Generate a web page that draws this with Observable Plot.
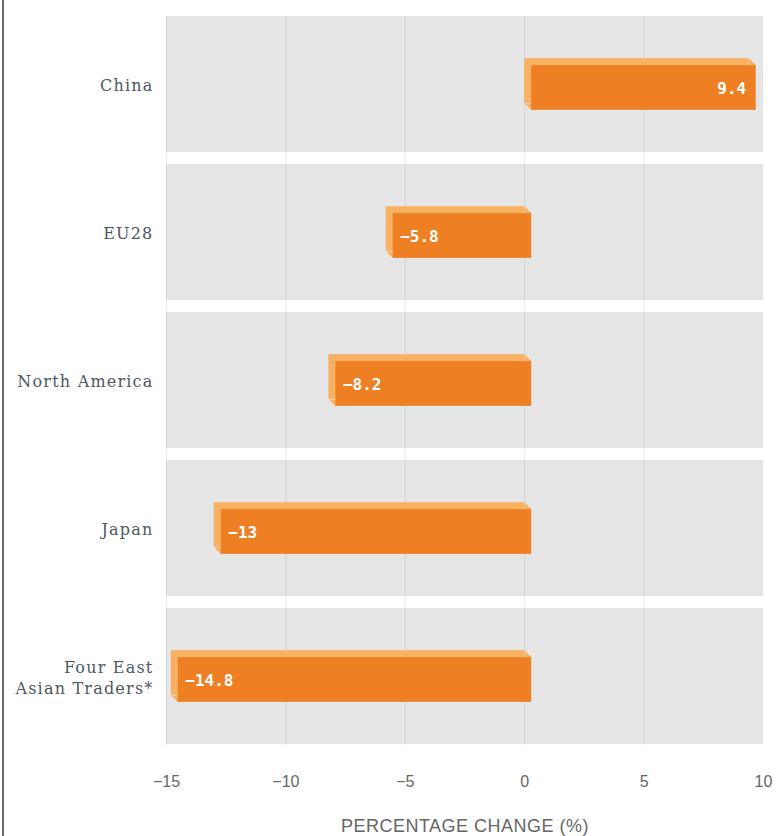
<!DOCTYPE html>
<html>
<head>
<meta charset="utf-8">
<script src="https://cdn.jsdelivr.net/npm/d3@7"></script>
<script src="https://cdn.jsdelivr.net/npm/@observablehq/plot@0.6"></script>
<style>
  html, body { margin: 0; padding: 0; background: #fff; }
  #wrap { position: relative; width: 776px; height: 836px; overflow: hidden; }
  #border { position: absolute; left: 2px; top: 0; width: 2px; height: 836px; background: #6a6a6a; }
  #chart { position: absolute; left: 0; top: 0; }
  #chart g[font-family^="'DejaVu Serif'"] { letter-spacing: 1.2px; }
  #chart g[font-family^="Arial"] { letter-spacing: 0.5px; }
</style>
</head>
<body>
<div id="wrap"><div id="chart"></div><div id="border"></div></div>
<script>
// ---- data ----
const categories = ["China", "EU28", "North America", "Japan", "Four East\nAsian Traders*"];
const values = [9.4, -5.8, -8.2, -13, -14.8];
const xDomain = [-15, 10];
const xTicks = [-15, -10, -5, 0, 5, 10];
const gridTicks = [-15, -10, -5, 0, 5];
const xLabel = "PERCENTAGE CHANGE (%)";

// ---- layout / style ----
const W = 776, H = 836;
const mt = 16, mb = 91, ml = 166, mr = 13;
const pad = 0.08;
const bw = (H - mt - mb) / (categories.length - pad) * (1 - pad);
const half = bw / 2;
const D = 7;          // extrusion depth (px)
const faceTop = -26;  // back face top relative to band centre
const faceBot = 19;   // back face bottom relative to band centre
const dark = "#EE7F22", light = "#F8B062";

const rows = categories.map((c, i) => ({cat: c, value: values[i]}));
const fmt = v => (v < 0 ? "\u2212" : "") + Math.abs(v);

const bevelTR = {draw(ctx) { ctx.moveTo(0, faceTop); ctx.lineTo(D, faceTop + D); ctx.lineTo(0, faceTop + D); ctx.closePath(); }};
const bevelBL = {draw(ctx) { ctx.moveTo(0, faceBot); ctx.lineTo(D, faceBot + D); ctx.lineTo(D, faceBot); ctx.closePath(); }};

const chart = Plot.plot({
  width: W, height: H,
  marginTop: mt, marginBottom: mb, marginLeft: ml, marginRight: mr,
  style: {background: "transparent", fontFamily: "'Liberation Sans', Arial, sans-serif", overflow: "visible"},
  x: {domain: xDomain},
  y: {domain: categories, paddingInner: pad, paddingOuter: 0, axis: null},
  marks: [
    Plot.barX(categories, {y: d => d, x1: xDomain[0], x2: xDomain[1], fill: "#e6e6e6"}),
    Plot.ruleX(gridTicks, {stroke: "#000", strokeOpacity: 0.07, strokeWidth: 1.2}),
    // back face
    Plot.barX(rows, {y: "cat", x1: 0, x2: "value", fill: light,
      insetTop: half + faceTop, insetBottom: half - faceBot}),
    // bevels
    Plot.dot(rows, {y: "cat", x: d => Math.max(d.value, 0), r: 3, symbol: bevelTR, fill: light, stroke: "none"}),
    Plot.dot(rows, {y: "cat", x: d => Math.min(d.value, 0), r: 3, symbol: bevelBL, fill: light, stroke: "none"}),
    // front face
    Plot.barX(rows, {y: "cat", x1: 0, x2: "value", fill: dark, dx: D, dy: D,
      insetTop: half + faceTop, insetBottom: half - faceBot}),
    // value labels
    Plot.text(rows.filter(d => d.value < 0), {y: "cat", x: "value", text: d => fmt(d.value),
      textAnchor: "start", dx: D + 7, dy: 4, fill: "#fff", fontWeight: "bold", fontSize: 16,
      fontFamily: "'DejaVu Sans Mono', monospace"}),
    Plot.text(rows.filter(d => d.value >= 0), {y: "cat", x: "value", text: d => fmt(d.value),
      textAnchor: "end", dx: D - 10, dy: 4, fill: "#fff", fontWeight: "bold", fontSize: 16,
      fontFamily: "'DejaVu Sans Mono', monospace"}),
    // category labels (y axis)
    Plot.text(categories, {y: d => d, text: d => d, frameAnchor: "left", textAnchor: "end", dx: -13,
      fill: "#4b5863", fontSize: 16, lineHeight: 1.3, fontFamily: "'DejaVu Serif', serif"}),
    Plot.axisX({ticks: xTicks, tickSize: 0, tickPadding: 30, fill: "#666", fontSize: 16,
      tickFormat: d => fmt(d), label: null}),
    Plot.text([xLabel], {text: d => d, frameAnchor: "bottom", dy: 81, fill: "#666", fontSize: 18,
      lineAnchor: "middle", fontFamily: "Arial, 'Liberation Sans', sans-serif"}),
  ]
});
document.getElementById("chart").appendChild(chart);
</script>
</body>
</html>
